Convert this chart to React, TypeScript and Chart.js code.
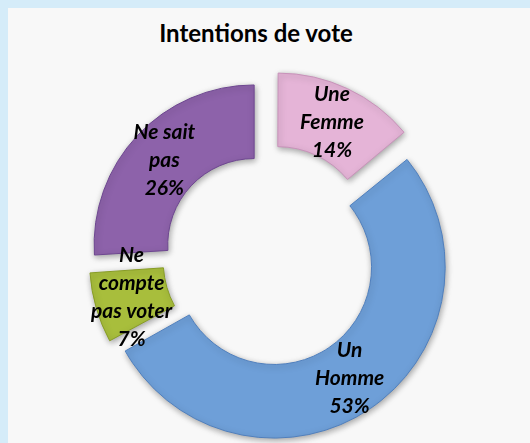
import { useEffect, useRef } from "react";
import { Chart, registerables } from "chart.js";

Chart.register(...registerables);

const titleText = "Intentions de vote";
const categories = ["Une Femme", "Un Homme", "Ne compte pas voter", "Ne sait pas"];
const labelLines = [["Une", "Femme"], ["Un", "Homme"], ["Ne", "compte", "pas voter"], ["Ne sait", "pas"]];
const values = [14, 53, 7, 26];
const sliceColors = ["#e5b4d7", "#6e9fd8", "#a8be3c", "#8d62aa"];
const sliceBorders = ["#c792b9", "#4f7fbd", "#879c25", "#6d4690"];
const sliceOffsets = [88, 44, 48, 76];

const shadowPlugin = {
  id: "arcShadow",
  beforeDatasetsDraw(chart: any) {
    const c = chart.ctx;
    c.save();
    c.shadowColor = "rgba(0,0,0,0.35)";
    c.shadowBlur = 6;
    c.shadowOffsetX = 1;
    c.shadowOffsetY = 2;
  },
  afterDatasetsDraw(chart: any) {
    chart.ctx.restore();
  },
};

const labelPlugin = {
  id: "sliceLabels",
  afterDraw(chart: any) {
    const ctx = chart.ctx;
    const meta = chart.getDatasetMeta(0);
    const total = values.reduce((a, b) => a + b, 0);
    ctx.save();
    ctx.font = "italic bold 21px Lato";
    ctx.fillStyle = "#000";
    ctx.textAlign = "center";
    ctx.textBaseline = "middle";
    meta.data.forEach((arc: any, i: number) => {
      const p = arc.getProps(["x", "y", "startAngle", "endAngle", "innerRadius", "outerRadius", "circumference"], true);
      const half = (p.startAngle + p.endAngle) / 2;
      const off = (arc.options.offset || 0) / 4;
      const fix = 1 - Math.sin(Math.min(Math.PI, p.circumference));
      const r = (p.innerRadius + p.outerRadius) / 2 + off * fix + off;
      const x = p.x + Math.cos(half) * r;
      const y = p.y + Math.sin(half) * r;
      const lines = [...labelLines[i], `${Math.round((values[i] / total) * 100)}%`];
      const lh = 28;
      lines.forEach((t, j) => ctx.fillText(t, x, y + (j - (lines.length - 1) / 2) * lh));
    });
    ctx.restore();
  },
};

export default function App() {
  const ref = useRef<HTMLCanvasElement | null>(null);
  useEffect(() => {
    if (!ref.current) return;
    const chart = new Chart(ref.current, {
      type: "doughnut",
      data: {
        labels: categories,
        datasets: [
          {
            data: values,
            backgroundColor: sliceColors,
            borderColor: sliceBorders,
            borderWidth: 1,
            offset: sliceOffsets,
            radius: 160,
            cutout: "54%",
          } as any,
        ],
      },
      options: {
        animation: false,
        responsive: false,
        devicePixelRatio: 1,
        layout: { padding: { top: 73, bottom: 0, left: 6, right: 0 } },
        plugins: {
          legend: { display: false },
          tooltip: { enabled: false },
          title: { display: false },
        },
      } as any,
      plugins: [shadowPlugin, labelPlugin],
    });
    return () => chart.destroy();
  }, []);

  return (
    <div
      style={{
        position: "fixed",
        left: 0,
        top: 0,
        width: 530,
        height: 443,
        background: "#d5ecf9",
        overflow: "hidden",
      }}
    >
      <div
        style={{
          position: "absolute",
          left: 8,
          top: 8,
          right: 0,
          bottom: 0,
          background: "#f8f8f8",
        }}
      />
      <div
        style={{
          position: "absolute",
          left: 0,
          width: 512,
          top: 21,
          textAlign: "center",
          fontFamily: "Lato",
          fontWeight: "bold",
          fontSize: 24,
          lineHeight: "24px",
          color: "#000",
        }}
      >
        {titleText}
      </div>
      <canvas ref={ref} width={530} height={443} style={{ position: "absolute", left: 0, top: 0 }} />
    </div>
  );
}
